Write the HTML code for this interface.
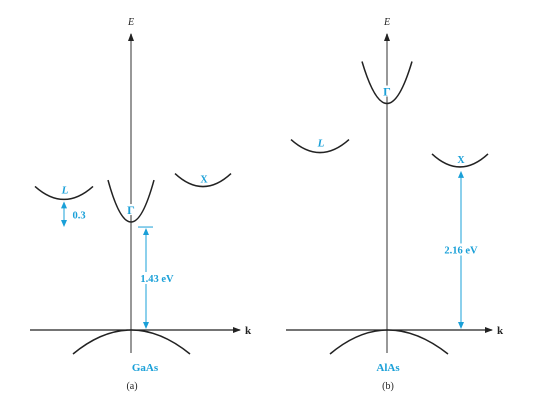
<!DOCTYPE html>
<html><head><meta charset="utf-8"><style>
body{margin:0;background:#fff;}
svg{display:block;font-family:"Liberation Serif",serif;}
</style></head><body>
<svg id="c" width="542" height="405" viewBox="0 0 542 405">
<defs>
<marker id="ab" markerWidth="8" markerHeight="6" refX="7" refY="3" orient="auto" markerUnits="userSpaceOnUse"><path d="M0,0L8,3L0,6z" fill="#222"/></marker>
<marker id="bb" markerWidth="7" markerHeight="6" refX="6" refY="3" orient="auto-start-reverse" markerUnits="userSpaceOnUse"><path d="M0,0L7,3L0,6z" fill="#1aa0d8"/></marker>
</defs>
</svg>
<script>
const materials = ["GaAs", "AlAs"];
const gammaE = [1.43, 3.0];
const lE = [1.73, 2.35];
const xE = [1.90, 2.16];
const gapLabels = ["1.43 eV", "2.16 eV"];
const panelLabels = ["(a)", "(b)"];

const svg = document.getElementById('c');
const NS = 'http://www.w3.org/2000/svg';
const BLUE = '#1aa0d8';
const pxPerEv = 75.5, y0 = 330;
const yE = e => y0 - e * pxPerEv;
const panels = [
  {ax: 131, hx0: 30, hx1: 240, lx: 64, xx: 203, gw: 23, lw: 29, xw: 28, vl: 58, vr: 59},
  {ax: 387, hx0: 286, hx1: 492, lx: 320, xx: 460, gw: 25, lw: 29, xw: 28, vl: 57, vr: 61}
];
function el(tag, attrs, parent) {
  const e = document.createElementNS(NS, tag);
  for (const k in attrs) e.setAttribute(k, attrs[k]);
  (parent || svg).appendChild(e);
  return e;
}
function txt(x, y, s, style, parent) {
  const t = el('text', Object.assign({x: x, y: y, 'text-anchor': 'middle'}, style), parent);
  t.textContent = s;
  return t;
}
function valley(g, cx, e, w, h) {
  const y = yE(e);
  return el('path', {d: `M${cx - w},${y - h} Q${cx},${y + h} ${cx + w},${y - h}`, fill: 'none', stroke: '#222', 'stroke-width': 1.5}, g);
}
materials.forEach((m, i) => {
  const p = panels[i];
  const g = el('g', {});
  
  
  const va = el('line', {x1: p.ax, y1: 353, x2: p.ax, y2: 34, stroke: '#777', 'stroke-width': 1.5, 'marker-end': 'url(#ab)'}, g);
  
  
  const el1 = txt(p.ax, 25, 'E', {'font-style': 'italic', 'font-size': 10, fill: '#222'}, g);
  
  
  const ha = el('line', {x1: p.hx0, y1: y0, x2: p.hx1, y2: y0, stroke: '#222', 'stroke-width': 1.2, 'marker-end': 'url(#ab)'}, g);
  
  
  const kl = txt(p.hx1 + 8, y0 + 4, 'k', {'font-weight': 'bold', 'font-size': 11, fill: '#222'}, g);
  
  
  const vb = el('path', {d: `M${p.ax - p.vl},${y0 + 24} Q${p.ax},${y0 - 24} ${p.ax + p.vr},${y0 + 24}`, fill: 'none', stroke: '#222', 'stroke-width': 1.5}, g);
  
  
  const gv = valley(g, p.ax, gammaE[i], p.gw, 42);
  
  
  el('rect', {x: p.ax - 4, y: yE(gammaE[i]) - 18, width: 8, height: 11, fill: '#fff'}, g);
  const gl = txt(p.ax, yE(gammaE[i]) - 8, 'Γ', {'font-size': 12, 'font-weight': 'bold', fill: BLUE}, g);
  
  
  const lv = valley(g, p.lx, lE[i], p.lw, 13);
  
  
  const ll = txt(p.lx + 1, yE(lE[i]) - 6, 'L', {'font-style': 'italic', 'font-weight': 'bold', 'font-size': 11, fill: BLUE}, g);
  
  
  const xv = valley(g, p.xx, xE[i], p.xw, 13);
  
  
  const xl = txt(p.xx + 1, yE(xE[i]) - 4, 'X', {'font-size': 10, 'font-weight': 'bold', fill: BLUE}, g);
  
  
  const ml = txt(p.ax + (i ? 1 : 14), 371, m, {'font-size': 11, 'font-weight': 'bold', fill: BLUE}, g);
  
  
  const pl = txt(p.ax + 1, 389, panelLabels[i], {'font-size': 10, fill: '#222'}, g);
  
  
  // band gap arrow
  const gapE = i === 0 ? gammaE[i] : xE[i];
  const gx = i === 0 ? p.ax + 15 : p.xx + 1;
  const top = yE(gapE) + (i === 0 ? 6 : 4);
  if (i === 0) {
    const tk = el('line', {x1: gx - 8, y1: top - 1, x2: gx + 7, y2: top - 1, stroke: BLUE, 'stroke-width': 1}, g);
    
    
  }
  const ga = el('line', {x1: gx, y1: y0 - 2, x2: gx, y2: top + 1, stroke: BLUE, 'stroke-width': 1, 'marker-start': 'url(#bb)', 'marker-end': 'url(#bb)'}, g);
  
  
  const midY = (y0 + top) / 2;
  const tx = gx + (i === 0 ? 11 : 0);
  el('rect', {x: tx - 20, y: midY - 7, width: 40, height: 12, fill: '#fff'}, g);
  const gt = txt(tx, midY + 3, gapLabels[i], {'font-size': 10.5, 'font-weight': 'bold', fill: BLUE}, g);
  
  
  if (i === 0) {
    const ly = yE(lE[i]) + 3;
    const la = el('line', {x1: p.lx, y1: ly, x2: p.lx, y2: yE(gammaE[i]) + 4, stroke: BLUE, 'stroke-width': 1, 'marker-start': 'url(#bb)', 'marker-end': 'url(#bb)'}, g);
    
    
    const lt = txt(p.lx + 15, ly + 16, (lE[i] - gammaE[i]).toFixed(1), {'font-size': 10.5, 'font-weight': 'bold', fill: BLUE}, g);
    
    
  }
});
</script>
</body></html>
